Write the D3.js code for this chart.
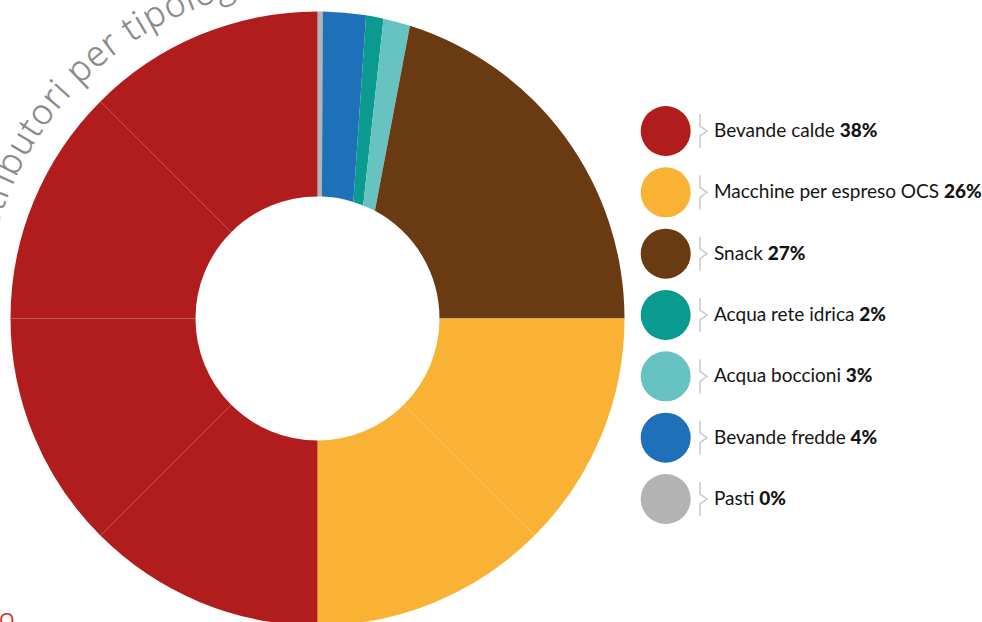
<!DOCTYPE html>
<html>
<head>
<meta charset="utf-8">
<script src="https://cdn.jsdelivr.net/npm/d3@7"></script>
<style>
  html, body { margin: 0; padding: 0; background: #fff; }
  svg { display: block; }
</style>
</head>
<body>
<svg id="chart" width="982" height="622"></svg>
<script>
// Legend entries, top to bottom
const categories = ["Bevande calde", "Macchine per espreso OCS", "Snack", "Acqua rete idrica", "Acqua boccioni", "Bevande fredde", "Pasti"];
const sharePct = [38, 26, 27, 2, 3, 4, 0];
const colors = ["#b11c1d", "#f9b234", "#6a3a12", "#0b9a8f", "#66c3c1", "#1e70b8", "#b3b3b3"];

// Ring sectors, clockwise from twelve o'clock (share of the turn, % at outer and inner edge)
const ringOrder = ["Pasti", "Bevande fredde", "Acqua rete idrica", "Acqua boccioni", "Snack", "Macchine per espreso OCS", "Bevande calde"];
const outerShare = [0.27, 2.26, 0.92, 1.42, 20.13, 25, 50];
const innerShare = [0.58, 4.17, 1.36, 1.69, 17.20, 25, 50];
const ringPieces = [1, 1, 1, 1, 1, 2, 4];

const title = "Distributori per tipologia";
const footer = "O";

const svg = d3.select("#chart");
const cx = 317.5, cy = 318.5, R = 307, r = 122;
const color = d3.scaleOrdinal().domain(categories).range(colors);

// Angles of each sector on both edges of the ring
const pie = d3.pie().sort(null).value(d => d).startAngle(0).endAngle(2 * Math.PI);
const outerArcs = pie(outerShare);
const innerArcs = pie(innerShare);

function sectorPath(a0, a1, b0, b1) {
  const p = d3.path();
  p.moveTo(cx + R * Math.sin(a0), cy - R * Math.cos(a0));
  p.arc(cx, cy, R, a0 - Math.PI / 2, a1 - Math.PI / 2, false);
  p.lineTo(cx + r * Math.sin(b1), cy - r * Math.cos(b1));
  p.arc(cx, cy, r, b1 - Math.PI / 2, b0 - Math.PI / 2, true);
  p.closePath();
  return p.toString();
}

const sectors = [];
ringOrder.forEach((name, i) => {
  const o = outerArcs[i], n = innerArcs[i], k = ringPieces[i];
  const oStep = d3.scaleLinear().domain([0, k]).range([o.startAngle, o.endAngle]);
  const nStep = d3.scaleLinear().domain([0, k]).range([n.startAngle, n.endAngle]);
  for (let j = 0; j < k; j++) {
    sectors.push({ name, a0: oStep(j), a1: oStep(j + 1), b0: nStep(j), b1: nStep(j + 1) });
  }
});

svg.append("g").selectAll("path")
  .data(sectors)
  .join("path")
  .attr("d", d => sectorPath(d.a0, d.a1, d.b0, d.b1))
  .attr("fill", d => color(d.name));

// Curved title around the ring
const tr = 333;
const defs = svg.append("defs");
defs.append("path")
  .attr("id", "titleCircle")
  .attr("d", `M${cx},${cy + tr} A${tr},${tr} 0 1 1 ${cx},${cy - tr} A${tr},${tr} 0 1 1 ${cx},${cy + tr}`);

const titleFont = { family: "'Open Sans', sans-serif", size: 35, weight: 300, spacing: 1.2 };
const styleTitle = sel => sel
  .attr("font-family", titleFont.family)
  .attr("font-size", titleFont.size)
  .attr("font-weight", titleFont.weight)
  .attr("letter-spacing", titleFont.spacing);
const probe = svg.append("text").call(styleTitle)
  .text(title.slice(0, title.indexOf("tipologia")));
const prefixLen = probe.node().getComputedTextLength();
probe.remove();
// "tipologia" starts at about -35.8 degrees from the top
const anchorAngle = (324.2 - 180) * Math.PI / 180;
svg.append("text").call(styleTitle)
  .attr("fill", "#888888")
  .attr("stroke", "#888888")
  .attr("stroke-width", 0.45)
  .append("textPath")
  .attr("href", "#titleCircle")
  .attr("startOffset", anchorAngle * tr - prefixLen)
  .text(title);

// Legend
const y = d3.scalePoint().domain(categories).range([131, 499]);
const lg = svg.append("g").attr("font-family", "Lato, sans-serif").attr("font-size", 19).attr("fill", "#141414");
const item = lg.selectAll("g").data(categories).join("g")
  .attr("transform", d => `translate(0,${y(d)})`);
item.append("circle").attr("cx", 665.7).attr("cy", 0).attr("r", 25).attr("fill", d => color(d));
const bracket = d3.line();
item.append("path")
  .attr("d", bracket([[700, -17], [700, -5], [707, 0], [700, 5], [700, 17]]))
  .attr("fill", "none").attr("stroke", "#c9c9c9").attr("stroke-width", 1.5);
const label = item.append("text").attr("x", 714).attr("y", 6);
label.append("tspan").text(d => d + " ");
label.append("tspan").attr("font-weight", 900).text((d, i) => sharePct[i] + "%");

// Footer heading peeking in at the bottom
svg.append("text")
  .attr("x", -1).attr("y", 627)
  .attr("font-family", "'Open Sans', sans-serif").attr("font-size", 20)
  .attr("fill", "#d42a2a")
  .text(footer);
</script>
</body>
</html>
